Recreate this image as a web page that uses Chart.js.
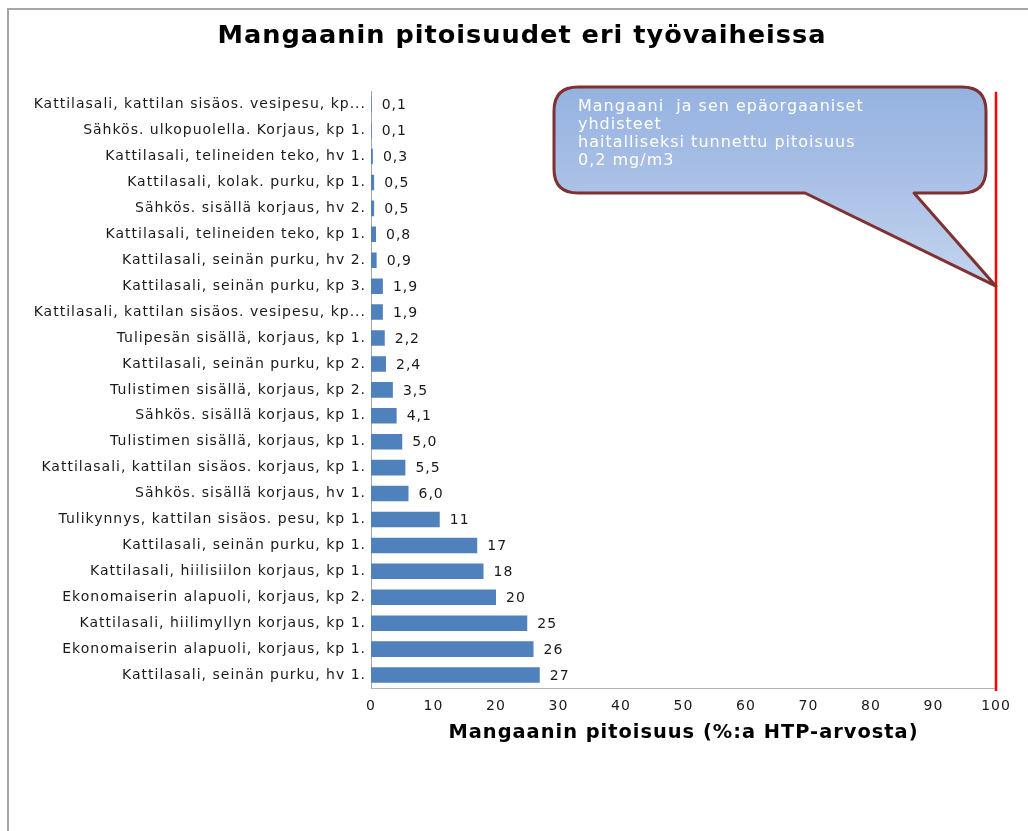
<!DOCTYPE html>
<html><head><meta charset="utf-8">
<script src="https://cdn.jsdelivr.net/npm/chart.js@4.4.0/dist/chart.umd.min.js"></script>
<style>html,body{margin:0;padding:0;background:#fff;}canvas{display:block}</style>
</head><body><canvas id="c" width="1028" height="831"></canvas>
<script>
const chartTitle = 'Mangaanin pitoisuudet eri työvaiheissa';
const axisTitle = 'Mangaanin pitoisuus (%:a HTP-arvosta)';
const categories = [
  'Kattilasali, kattilan sisäos. vesipesu, kp...',
  'Sähkös. ulkopuolella. Korjaus, kp 1.',
  'Kattilasali, telineiden teko, hv 1.',
  'Kattilasali, kolak. purku, kp 1.',
  'Sähkös. sisällä korjaus, hv 2.',
  'Kattilasali, telineiden teko, kp 1.',
  'Kattilasali, seinän purku, hv 2.',
  'Kattilasali, seinän purku, kp 3.',
  'Kattilasali, kattilan sisäos. vesipesu, kp...',
  'Tulipesän sisällä, korjaus, kp 1.',
  'Kattilasali, seinän purku, kp 2.',
  'Tulistimen sisällä, korjaus, kp 2.',
  'Sähkös. sisällä korjaus, kp 1.',
  'Tulistimen sisällä, korjaus, kp 1.',
  'Kattilasali, kattilan sisäos. korjaus, kp 1.',
  'Sähkös. sisällä korjaus, hv 1.',
  'Tulikynnys, kattilan sisäos. pesu, kp 1.',
  'Kattilasali, seinän purku, kp 1.',
  'Kattilasali, hiilisiilon korjaus, kp 1.',
  'Ekonomaiserin alapuoli, korjaus, kp 2.',
  'Kattilasali, hiilimyllyn korjaus, kp 1.',
  'Ekonomaiserin alapuoli, korjaus, kp 1.',
  'Kattilasali, seinän purku, hv 1.'
];
const values = [0.1, 0.1, 0.3, 0.5, 0.5, 0.8, 0.9, 1.9, 1.9, 2.2, 2.4, 3.5, 4.1, 5.0, 5.5, 6.0, 11, 17, 18, 20, 25, 26, 27];
const axisMin = 0;
const axisMax = 100;
const axisStep = 10;
const limitValue = 100;
const limitPointerCategory = 7;
const calloutLines = [
  'Mangaani  ja sen epäorgaaniset',
  'yhdisteet',
  'haitalliseksi tunnettu pitoisuus',
  '0,2 mg/m3'
];

function fmt(v) {
  return v < 10 ? v.toFixed(1).replace('.', ',') : String(Math.round(v));
}

const PLOT_RIGHT = 996;

const framePlugin = {
  id: 'frame',
  afterLayout(chart) {
    const x = chart.scales.x;
    x.right = PLOT_RIGHT;
    x.width = x.right - x.left;
    x.configure();
    chart.chartArea.right = PLOT_RIGHT;
    chart.chartArea.width = PLOT_RIGHT - chart.chartArea.left;
  },
  beforeDraw(chart) {
    const ctx = chart.ctx;
    ctx.save();
    ctx.strokeStyle = '#a6a6a6';
    ctx.lineWidth = 2;
    ctx.beginPath();
    ctx.moveTo(8, 831);
    ctx.lineTo(8, 9);
    ctx.lineTo(1028, 9);
    ctx.stroke();
    ctx.restore();
    ctx.letterSpacing = '1px';
  }
};

const labelPlugin = {
  id: 'barLabels',
  afterDatasetsDraw(chart) {
    const ctx = chart.ctx;
    const meta = chart.getDatasetMeta(0);
    ctx.save();
    ctx.font = '14px "DejaVu Sans"';
    ctx.fillStyle = '#1a1a1a';
    ctx.textBaseline = 'middle';
    ctx.textAlign = 'left';
    meta.data.forEach((el, i) => {
      ctx.fillText(fmt(values[i]), el.x + 10, el.y + 1);
    });
    ctx.restore();
  }
};

const limitPlugin = {
  id: 'limit',
  afterDatasetsDraw(chart) {
    const ctx = chart.ctx;
    const x = chart.scales.x.getPixelForValue(limitValue);
    const a = chart.chartArea;
    ctx.save();
    ctx.strokeStyle = '#ff0000';
    ctx.lineWidth = 2.5;
    ctx.beginPath();
    ctx.moveTo(x, a.top);
    ctx.lineTo(x, a.bottom + 3);
    ctx.stroke();
    ctx.restore();
  }
};

const calloutPlugin = {
  id: 'callout',
  afterDraw(chart) {
    const ctx = chart.ctx;
    const tipX = chart.scales.x.getPixelForValue(limitValue);
    const tipY = chart.scales.y.getPixelForValue(limitPointerCategory);
    const L = 554, T = 87, R = 986, B = 193, r = 24;
    const t1 = 805, t2 = 914;
    ctx.save();
    ctx.beginPath();
    ctx.moveTo(L + r, T);
    ctx.lineTo(R - r, T);
    ctx.quadraticCurveTo(R, T, R, T + r);
    ctx.lineTo(R, B - r);
    ctx.quadraticCurveTo(R, B, R - r, B);
    ctx.lineTo(t2, B);
    ctx.lineTo(tipX, tipY);
    ctx.lineTo(t1, B);
    ctx.lineTo(L + r, B);
    ctx.quadraticCurveTo(L, B, L, B - r);
    ctx.lineTo(L, T + r);
    ctx.quadraticCurveTo(L, T, L + r, T);
    ctx.closePath();
    const g = ctx.createLinearGradient(0, T, 0, tipY);
    g.addColorStop(0, '#95b2e0');
    g.addColorStop(0.5, '#abc1e7');
    g.addColorStop(1, '#c4d5ee');
    ctx.fillStyle = g;
    ctx.fill();
    ctx.strokeStyle = '#7f3030';
    ctx.lineWidth = 3;
    ctx.lineJoin = 'round';
    ctx.stroke();
    ctx.fillStyle = '#ffffff';
    ctx.font = '16px "DejaVu Sans"';
    ctx.textBaseline = 'middle';
    ctx.textAlign = 'left';
    calloutLines.forEach((s, i) => ctx.fillText(s, 578, 107 + i * 18));
    ctx.restore();
  }
};

new Chart(document.getElementById('c'), {
  type: 'bar',
  data: {
    labels: categories,
    datasets: [{
      data: values,
      backgroundColor: '#4f81bd',
      borderWidth: 0,
      categoryPercentage: 1,
      barPercentage: 0.6
    }]
  },
  options: {
    indexAxis: 'y',
    responsive: false,
    animation: false,
    layout: { padding: { left: 16, right: 0, top: 0, bottom: 0 } },
    plugins: {
      legend: { display: false },
      tooltip: { enabled: false },
      title: {
        display: true,
        text: chartTitle,
        color: '#000',
        font: { family: 'DejaVu Sans', size: 25.6, weight: 'bold' },
        padding: { top: 21, bottom: 40 }
      }
    },
    scales: {
      x: {
        min: axisMin,
        max: axisMax,
        ticks: { stepSize: axisStep, color: '#1a1a1a', font: { family: 'DejaVu Sans', size: 14 }, padding: 10 },
        grid: { display: false, drawTicks: false },
        border: { display: true, color: '#b3b3b3', width: 1 },
        title: {
          display: true,
          text: axisTitle,
          color: '#000',
          font: { family: 'DejaVu Sans', size: 19.4, weight: 'bold' },
          padding: { top: 0, bottom: 86 }
        },
        afterFit(s) { s.height = 143; }
      },
      y: {
        ticks: { autoSkip: false, color: '#1a1a1a', font: { family: 'DejaVu Sans', size: 14 }, padding: 5 },
        grid: { display: false, drawTicks: false },
        border: { display: true, color: '#a6a6a6', width: 1 },
        afterFit(s) { s.width = 355; }
      }
    }
  },
  plugins: [framePlugin, labelPlugin, limitPlugin, calloutPlugin]
});
</script>
</body></html>
